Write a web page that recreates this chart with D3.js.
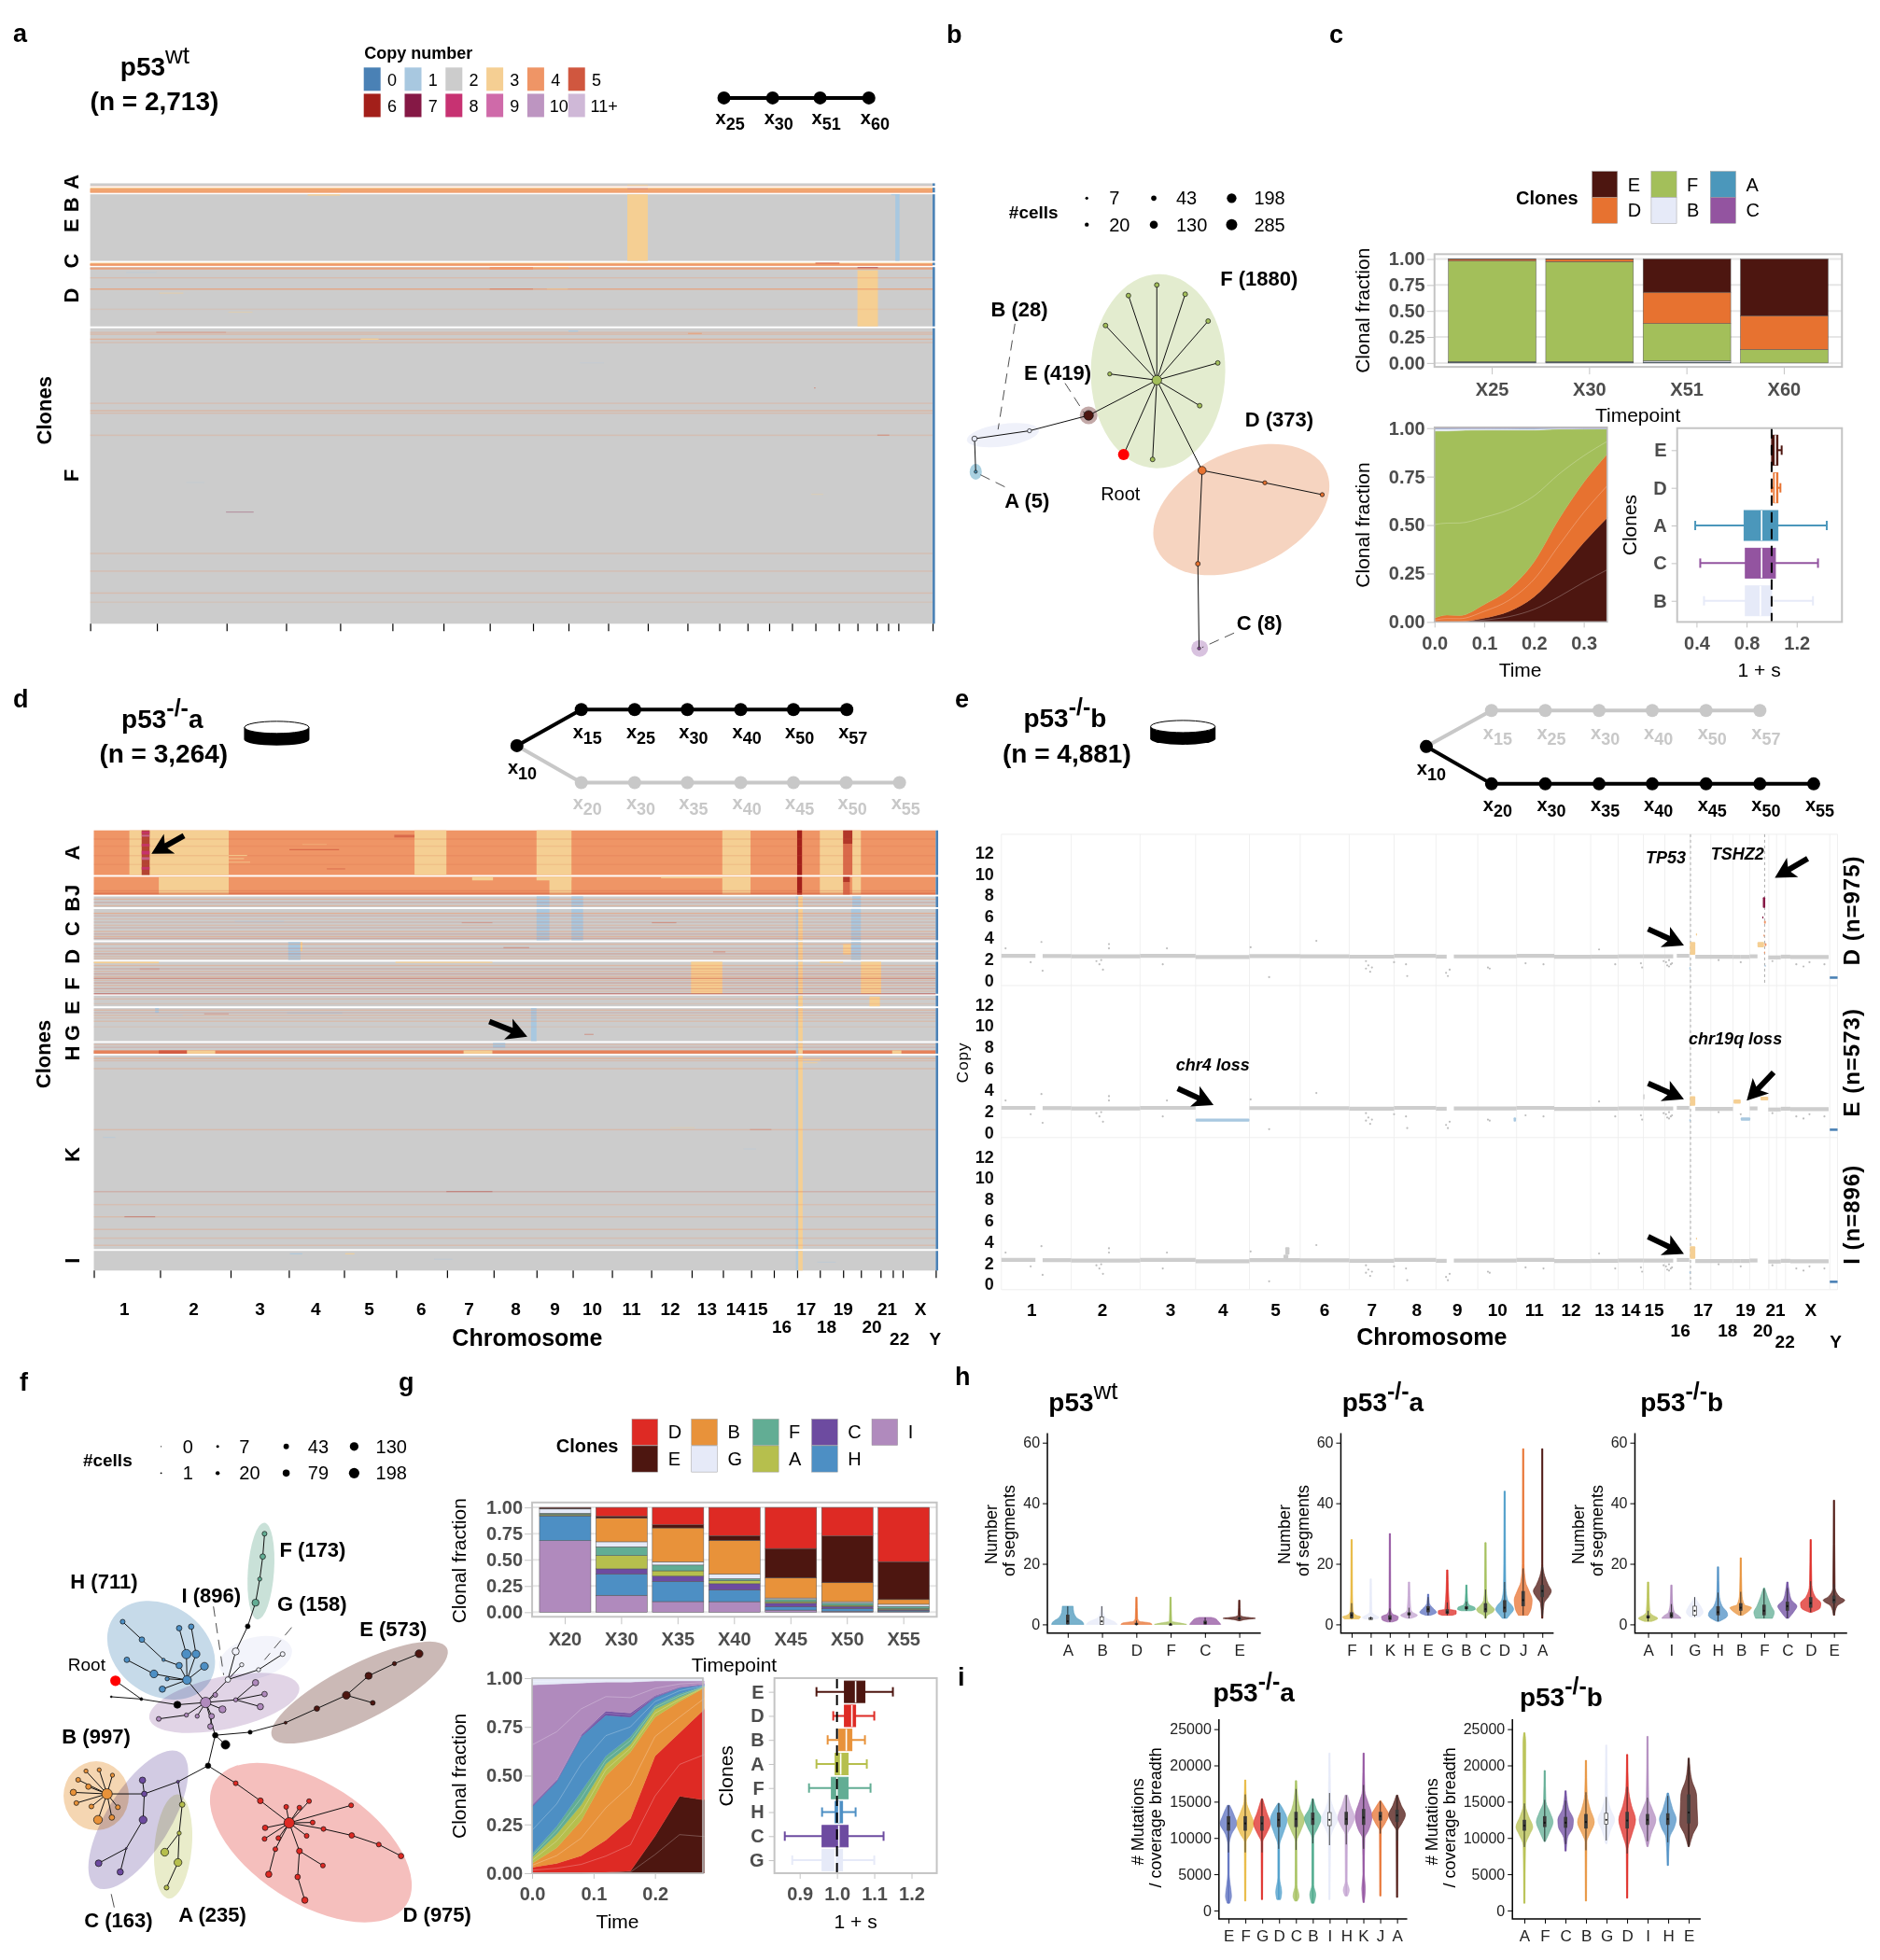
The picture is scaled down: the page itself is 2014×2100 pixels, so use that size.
<!DOCTYPE html>
<html><head><meta charset="utf-8">
<script src="https://cdn.jsdelivr.net/npm/d3@7"></script>
<style>html,body{margin:0;background:#fff}svg{display:block;font-family:"Liberation Sans",Arial,sans-serif}</style>
</head><body><script>
// ---------- shared values ----------
const cnLabels=['0','1','2','3','4','5','6','7','8','9','10','11+'];
const cnColors=['#4a81b5','#a8c8e0','#cccccc','#f5cf93','#ef9566','#d0573f','#a31f1a','#851845','#c73272','#cf6aa9','#bd95c1','#cfb8d7'];
const chromNames=['1','2','3','4','5','6','7','8','9','10','11','12','13','14','15','16','17','18','19','20','21','22','X','Y'];
const chromLenA=[111,116,99,90,87,85,77,72,59,66,66,66,53,47,36,38,39,39,31,32,19,17,57,4];
const chromLenD=[108,115,95,90,85,83,76,70,59,64,64,66,51,46,37,38,37,38,29,32,20,16,54,4];
const chromLenE=[117,115,93,90,85,82,75,70,70,65,63,61,46,42,36,42,35,37,28,32,13,15,74,13];
const chromLabelPosD=[50,163,271,362,449,534,612,688,752,813,877,940,1000,1047,1083,1122,1162,1195,1222,1269,1294,1314,1348,1372];
const chromLabelPosE=[51,169,283,371,459,541,620,695,763,830,892,953,1009,1053,1092,1136,1174,1215,1245,1274,1295,1311,1354,1396];
const chromLabelRow=[0,0,0,0,0,0,0,0,0,0,0,0,0,0,0,1,0,1,0,1,0,2,0,2];

// panel a heatmap
const aClones=['A','B','E','C','D','F'];
const aCells=[16,30,419,16,373,1859];
const aSegments=[
['E',894,928,3,0,1,1],['E',1340,1347,1,0,1,1],['E',362,416,3,0,.02,1],['E',1333,1347,1,0,.012,1],
['D',1277,1311,3,.05,1,1],['D',1277,1311,7,0,.025,.8],['D',1277,1311,2,.025,.05,1],
['D',665,737,4,0,.04,1],['D',737,796,3,0,.03,1],['C',1207,1247,5,0,.5,1],['B',894,928,10,.1,.4,.8],
['A',894,928,3,.5,1,.6]];
const aRows=[['A',.9,4,.25],['B',.15,4,.7],['B',.35,4,.6],['B',.5,4,.55],['B',.7,4,.7],['B',.85,4,.6],
['C',.3,4,.8],['C',.5,4,.8],['C',.75,4,.8],['D',.005,4,.7],['D',.02,4,.7],['D',.17,4,.28],['D',.36,4,.7],
['D',.7,4,.15],['F',.012,4,.3],['F',.018,4,.35],['F',.035,4,.5],['F',.046,4,.25],['F',.252,4,.25],['F',.277,4,.4],['F',.285,4,.3],
['F',.36,4,.25],['F',.76,4,.25],['F',.82,4,.25],['F',.894,4,.28],['F',.925,4,.16]];
const aSpecks=[['F',.012,110,226,5,.25],['F',.008,796,812,1,1],['F',.035,450,480,3,1],['F',.016,995,1018,4,.6],
['F',.62,226,272,7,.3],['F',.115,815,855,1,.2],['D',.36,665,737,5,.4],['D',.36,760,795,3,.5],['D',.43,115,155,3,.5],['D',.75,230,270,3,.4],['D',.08,60,110,1,.3],
['F',.2,1205,1207,5,.6],['F',.56,1200,1220,3,.3],['F',.52,160,190,1,.2],['F',.36,1310,1330,5,.4]];

// panel d heatmap
const dClones=['A','J','B','C','D','F','E','G','H','K','I'];
const dCells=[345,138,83,242,138,248,83,255,83,1497,152];
const dSegments=[
['A',58,220,3,0,1,1],['A',523,575,3,0,1,1],['A',722,779,3,0,1,1],['A',1025,1071,3,0,1,1],['A',1184,1222,3,0,1,1],['A',1237,1251,3,0,1,1],
['A',78,91,6,0,1,.8],['A',78,91,8,.02,.08,.8],['A',78,91,9,.1,.14,.8],['A',78,91,8,.3,.36,.8],['A',78,91,8,.46,.54,.9],['A',78,91,9,.6,.66,.7],['A',78,91,8,.82,.88,.8],
['A',1147,1155,6,0,1,1],['A',1222,1237,6,0,.3,.8],['A',1222,1237,5,.3,1,.7],['A',490,523,5,.1,.16,.7],
['J',106,220,3,0,1,1],['J',617,651,3,0,.2,1],['J',722,779,3,0,.2,1],['J',743,779,3,0,1,1],['J',1025,1071,3,0,1,1],['J',1184,1222,3,0,1,1],['J',1237,1251,3,0,1,1],['J',1147,1155,6,0,1,1],['J',1222,1233,6,0,.3,.8],['J',1222,1233,5,.3,1,.7],['J',925,1025,3,0,.08,1],
['B',722,743,1,0,1,1],['B',779,798,1,0,1,1],['B',1237,1251,1,0,1,1],
['C',722,743,1,0,1,1],['C',779,798,1,0,1,1],['C',1235,1251,1,0,1,1],
['D',317,337,1,0,1,1],['D',337,340,3,0,.5,1],['D',1222,1235,3,.1,.7,1],['D',1235,1251,1,0,1,1],
['F',974,1025,3,0,1,1],['F',1251,1284,3,0,1,1],['F',0,106,3,0,.05,1],['F',75,107,5,.2,.26,.2],['F',492,650,3,0,.04,.9],['F',1184,1222,3,0,.04,1],
['E',1265,1282,3,.1,1,1],['G',713,722,1,0,1,1],['G',100,106,1,0,.14,1],['G',315,405,1,.13,.17,.5],
['H',651,671,1,0,.45,1],['H',0,1373,4,.7,1,1],['H',0,1373,5,.7,1,.3],['H',106,152,5,.7,1,.9],['H',152,198,3,.7,1,1],['H',603,650,3,.7,1,1],['H',1302,1317,3,.7,1,1]];
const dColumnClones=['B','C','D','F','E','G','H','K','I'];
const dColumns=[[1145,1149,1,.8],[1149,1156,3,1]];
const dRows=[['A',.18,5,.18],['A',.34,5,.12],['A',.55,5,.14],['A',.75,5,.12],['J',.75,5,.25],['J',.88,5,.4],['J',.93,5,.4],
['B',.2,4,.4],['B',.5,5,.25],['B',.8,4,.4],
['C',.12,4,.55],['C',.2,5,.2],['C',.3,4,.25],['C',.4,5,.18],['C',.5,4,.3],['C',.58,5,.2],['C',.7,4,.4],['C',.78,5,.25],['C',.86,4,.45],['C',.92,5,.3],
['D',.08,4,.4],['D',.32,5,.2],['D',.48,4,.3],['D',.62,5,.3],['D',.76,4,.3],['D',.88,4,.3],
['F',.1,4,.4],['F',.2,5,.25],['F',.28,4,.35],['F',.36,5,.3],['F',.44,4,.4],['F',.5,5,.5],['F',.56,4,.3],['F',.64,5,.3],['F',.72,4,.4],['F',.82,5,.3],['F',.9,4,.3],['F',.98,6,.5],
['E',.25,4,.3],['E',.7,4,.2],
['G',.04,4,.4],['G',.12,5,.2],['G',.2,4,.35],['G',.28,4,.25],['G',.38,4,.3],['G',.55,4,.15],
['H',.1,4,.3],['H',.35,5,.2],
['K',.012,4,.5],['K',.024,4,.3],['K',.065,4,.3],['K',.38,4,.3],['K',.7,5,.25],['K',.767,4,.25],['K',.83,4,.3],['K',.895,4,.3],['K',.94,4,.25],['K',.977,4,.3]];
const dSpecks=[['A',.55,220,250,3,.8],['A',.62,220,245,3,.7],['A',.7,220,255,3,.6],['A',.42,319,400,5,.7],['A',.3,340,380,3,.3],['A',.85,380,410,5,.5],
['C',.38,230,310,1,.3],['C',.42,600,650,5,.3],['C',.42,910,950,5,.4],['D',.28,668,710,5,.4],['D',.52,1010,1030,5,.4],['G',.2,105,145,1,.3],['G',.16,180,220,5,.3],['G',.78,800,815,5,.4],
['K',.38,1070,1105,5,.3],['K',.7,575,650,6,.3],['K',.83,50,100,6,.3],['K',.02,1157,1185,3,1],['K',.035,1157,1180,3,.7],['K',.42,15,35,1,.4],['K',.48,1060,1080,1,.3],['K',.37,940,980,3,.3],
['I',.12,320,340,1,.8],['I',.12,410,425,3,.8],['I',.4,555,585,1,.3],['I',.55,1180,1210,1,.3]];

// panel b tree: id, x, y, parent, clone, cells
const bNodes=[
['f0',370,863,null,'F',198],['f1',370,647,'f0','F',30],['f2',323,671,'f0','F',30],['f3',417,668,'f0','F',30],['f4',285,739,'f0','F',30],['f5',455,729,'f0','F',30],['f6',292,849,'f0','F',20],['f7',471,824,'f0','F',30],['f8',441,921,'f0','F',30],['f9',363,1043,'f0','F',30],
['root',315,1032,'f0','Root',285],['e0',257,943,'f0','E',198],['b1',159,978,'e0','B',20],['b0',68,996,'b1','B',43],['a0',70,1071,'b0','A',7],
['d0',445,1068,'f0','D',130],['d1',549,1096,'d0','D',20],['d2',644,1123,'d1','D',20],['d3',438,1280,'d0','D',30],['c0',440,1472,'d3','C',7]];
const bClones=['F','E','B','A','D','C','Root'];
const bCloneColors=['#a3bf5a','#4d1610','#e6eaf8','#4b97bb','#e77230','#9354a0','#ff0000'];
const bLegendCells=[7,43,198,20,130,285];
const bLabels=[['F (1880)',475,648],['B (28)',95,718],['E (419)',150,862],['D (373)',516,968],['A (5)',118,1152],['C (8)',502,1431]];

// panel f tree
const fNodes=[
['a0',346,1058,null,'-',43],['a1',358,978,'a0','-',43],['a2',375,1003,'a1','-',130],['a3',416,970,'a1','-',20],
['e0',475,945,'a3','E',7],['e1',527,908,'e0','E',43],['e2',576,873,'e1','E',100],['e3',613,822,'e2','E',79],['e4',656,790,'e3','E',20],['e5',697,764,'e4','E',100],['e6',620,893,'e2','E',30],
['i0',342,892,'a1','I',198],['k2',295,898,'i0','-',79],['k1',235,883,'k2','-',7],['k0',185,877,'k1','-',1],['root',192,835,'k1','Root',198],
['i2',310,925,'i0','I',20],['i1',264,935,'i2','I',30],['i3',328,928,'i0','I',20],['i4',352,928,'i0','I',43],['i5',350,955,'i4','I',43],['i6',370,910,'i0','I',79],['i7',358,872,'i0','I',30],['i8',392,885,'i0','I',20],['i9',425,840,'i8','I',60],['i10',440,870,'i8','I',43],['i11',433,903,'i8','I',60],
['w0',379,832,'i0','G',43],['w1',392,758,'w0','G',79],['w2',412,692,'w1','-',30],['f0',425,630,'w2','F',79],['f1',432,568,'f0','F',20],['f2',437,509,'f1','F',43],['f3',440,449,'f2','F',30],
['g1',402,793,'w0','G',20],['g2',430,806,'w0','G',20],['g3',470,765,'g2','G',30],
['h0',311,833,'i0','H',130],['h1',278,830,'h0','H',20],['h2',270,857,'h0','H',60],['h3',256,817,'h0','H',100],['h4',211,780,'h3','H',43],['h5',298,795,'h0','H',60],['h6',272,780,'h5','H',10],['h7',236,727,'h6','H',43],['h8',204,680,'h7','H',30],['h9',310,765,'h0','H',150],['h10',298,697,'h9','H',43],['h11',326,765,'h0','H',100],['h12',318,693,'h11','H',43],['h13',340,797,'h0','H',100],
['c0',296,1100,'a0','C',7],['c1',240,1132,'c0','C',43],['c2',237,1096,'c1','C',60],['c3',238,1200,'c1','C',100],['c4',210,1275,'c3','C',1],['c5',200,1337,'c4','C',60],['c6',164,1314,'c4','C',70],
['b0',178,1132,'c1','B',198],['b1',122,1128,'b0','B',60],['b2',127,1156,'b0','B',30],['b3',130,1095,'b0','B',30],['b4',143,1072,'b0','B',20],['b5',165,1069,'b0','B',20],['b6',187,1083,'b0','B',20],['b7',147,1113,'b0','B',43],['b8',152,1165,'b0','B',30],['b9',163,1200,'b0','B',130],['b10',186,1194,'b0','B',43],['b11',196,1167,'b0','B',30],
['y0',303,1160,'c0','A',43],['y1',298,1235,'y0','A',20],['y2',274,1285,'y1','A',100],['y3',296,1312,'y1','A',100],['y4',277,1378,'y3','A',30],
['d0',392,1104,'a0','D',30],['d1',433,1150,'d0','D',50],['d2',481,1208,'d1','D',198],['d3',476,1166,'d2','D',30],['d4',514,1151,'d2','D',30],['d5',498,1168,'d2','D',30],['d6',584,1162,'d2','D',30],['d7',520,1207,'d2','D',30],['d8',538,1224,'d2','D',30],['d9',585,1241,'d8','D',43],['d10',630,1265,'d9','D',30],['d11',667,1295,'d10','D',43],['d12',510,1242,'d2','D',30],['d13',498,1282,'d2','D',50],['d14',537,1320,'d13','D',30],['d15',495,1350,'d13','D',43],['d16',507,1411,'d15','D',60],['d17',458,1277,'d2','D',30],['d18',447,1343,'d17','D',60],['d19',463,1248,'d2','D',30],['d20',441,1221,'d2','D',43],['d21',440,1250,'d2','D',30]];
const fClones=['-','E','I','F','G','H','C','B','A','D','Root'];
const fCloneColors=['#000000','#4d1610','#b08abd','#62ad94','#f2f3fb','#4d8fc4','#6d4ba0','#e8923a','#b6bf4d','#de2a24','#ff0000'];
const fLegendCells=[0,7,43,130,1,20,79,198];
const fLabels=[['F (173)',465,510],['H (711)',117,593],['I (896)',302,630],['G (158)',461,652],['E (573)',598,717],['B (997)',103,1000],['C (163)',140,1483],['A (235)',297,1468],['D (975)',670,1468]];

// panel c
const cTimepoints=['X25','X30','X51','X60'];
const cBarE=[.003,.003,.32,.545];
const cBarD=[.015,.022,.30,.325];
const cBarF=[.97,.963,.36,.13];
const cBarB=[.002,.002,.012,.0];
const cBarA=[.005,.005,.004,.0];
const cBarC=[.005,.005,.004,.0];
const cTime=[0,.025,.05,.1,.15,.2,.25,.3,.347];
const cAreaE=[0,0,.001,.02,.055,.13,.26,.41,.54];
const cAreaD=[.02,.035,.032,.07,.115,.18,.27,.31,.33];
const cAreaF=[.965,.95,.955,.90,.82,.68,.465,.275,.13];
const cAreaB=[.012,.012,.01,.008,.007,.006,.004,.003,.002];
const cAreaA=[.002,.002,.001,.001,.002,.003,.001,.001,.001];
const cAreaC=[.001,.001,.001,.001,.001,.001,0,.001,.001];
const cBoxClones=['E','D','A','C','B'];
const cBoxLow=[1.0,1.0,.39,.43,.46],cBoxQ1=[1.0,1.015,.78,.79,.79],cBoxMed=[1.03,1.03,.92,.92,.91],cBoxQ3=[1.05,1.05,1.05,1.03,1.0],cBoxHigh=[1.08,1.07,1.44,1.37,1.33];
const cColors={E:'#4d1610',D:'#e77230',F:'#a3bf5a',B:'#e6eaf8',A:'#4b97bb',C:'#9354a0'};

// panel g
const gTimepoints=['X20','X30','X35','X40','X45','X50','X55'];
const gBarD=[.003,.083,.163,.267,.39,.27,.515];
const gBarE=[.007,.018,.03,.047,.28,.445,.36];
const gBarB=[.005,.224,.32,.318,.19,.18,.045];
const gBarG=[.04,.047,.03,.043,.015,.015,.02];
const gBarF=[.012,.083,.054,.018,.02,.02,.02];
const gBarA=[.01,.126,.05,.03,.015,.01,.01];
const gBarC=[.003,.05,.05,.06,.035,.02,.01];
const gBarH=[.235,.2,.19,.11,.03,.025,.01];
const gBarI=[.68,.16,.1,.1,.02,.01,.005];
const gTime=[0,.04,.08,.12,.16,.2,.24,.28];
const gAreaE=[0,0,0,.005,.01,.19,.395,.375];
const gAreaD=[.03,.05,.09,.165,.27,.41,.325,.465];
const gAreaB=[.02,.08,.18,.33,.34,.2,.16,.11];
const gAreaA=[.03,.07,.08,.06,.04,.04,.02,.005];
const gAreaF=[.02,.04,.07,.04,.04,.02,.02,.005];
const gAreaH=[.24,.23,.28,.21,.1,.04,.03,.005];
const gAreaC=[.01,.01,.01,.02,.02,.01,.005,.005];
const gAreaI=[.615,.49,.265,.15,.16,.075,.03,.015];
const gAreaG=[.035,.03,.025,.02,.02,.015,.015,.015];
const gBoxClones=['E','D','B','A','F','H','C','G'];
const gBoxLow=[.945,.99,.975,.945,.925,.96,.86,.88],gBoxQ1=[1.02,1.02,1.005,.995,.985,.995,.96,.96],gBoxMed=[1.05,1.04,1.025,1.01,1.0,1.005,1.005,.995],gBoxQ3=[1.075,1.05,1.04,1.03,1.03,1.015,1.03,1.015],gBoxHigh=[1.15,1.10,1.075,1.08,1.09,1.05,1.125,1.10];
const gColors={D:'#de2a24',E:'#4d1610',B:'#e8923a',G:'#e6eaf8',F:'#62ad94',A:'#b6bf4d',C:'#6d4ba0',H:'#4d8fc4',I:'#b08abd'};

// panel e
const eBase=[[0,57,2.3],[69,117,2.28],[117,232,2.25],[232,325,2.3],[325,415,2.18],[415,500,2.28],[500,582,2.26],[582,657,2.22],[657,727,2.3],[727,745,2.22],[757,862,2.24],[862,925,2.3],[925,986,2.2],[986,1032,2.22],[1032,1074,2.25],[1074,1124,2.25],[1130,1151,2.3],[1161,1224,2.2],[1224,1237,2.2],[1237,1252,2.2],[1252,1265,2.25],[1283,1304,2.15],[1304,1320,2.22],[1320,1384,2.18]];
const eOutlierX=[7,67,69,49,159,164,170,180,180,167,277,270,417,448,527,610,614,617,610,620,657,677,679,744,747,750,814,817,877,907,1027,1072,1117,1120,1112,1117,1237,1342,1352,1377,1000,1070,1108,1114,1122,1200,1290,1330];
const eOutlierCN=[3.0,3.6,.9,1.7,1.8,1.5,1.0,3.4,3.0,1.9,3,1.5,3.1,.3,3.7,1.8,1.4,.8,1.1,1.2,1.7,1.5,.4,.7,.4,1,1.2,1.1,1.6,1.5,1.5,1.2,1.9,1.5,1.7,1.3,1.7,1.3,1.7,1.5,2.9,1.6,1.8,1.4,1.6,1.9,1.8,1.5];
const ePanels=['D (n=975)','E (n=573)','I (n=896)'];
// panel row, x0, x1, low copy, high copy, state
const eExtra=[
[0,1152,1161,2.4,3.6,3],[0,1151,1153,1.0,1.25,1],[0,1162,1164,4.2,4.4,3],
[0,1265,1276,3.1,3.6,3],[0,1274,1278,6.8,7.8,7],[0,1273,1275,5.8,6,7],[0,1276,1279,5.3,5.6,4],[0,1275,1277,4.1,4.3,4],[0,1277,1280,3.2,3.5,4],[0,1276,1278,2.5,2.7,4],[0,1277,1279,1.25,1.45,1],
[1,325,415,1.0,1.3,1],[1,1152,1161,2.5,3.4,3],[1,1151,1153,1.0,1.25,1],[1,857,861,1.0,1.4,1],[1,1225,1237,2.7,3.1,3],[1,1237,1253,1.1,1.4,1],[1,1270,1283,3.0,3.35,3],[1,1074,1076,3.1,3.6,2],
[2,1152,1161,2.4,3.6,3],[2,1151,1153,1.0,1.25,1],[2,1162,1164,4.2,4.4,3],[2,472,480,2.3,2.8,2],[2,475,482,2.8,3.5,2]];
const eSkip=[[],[[325,415],[1224,1237],[1237,1252]],[]];
const eChromY=[.25,.25,.25];

// panel h
const hWtClones=['A','B','D','F','C','E'];
const hWtProfiles=[[[0,27],[1,24],[2,16],[3,12],[4,10],[6,9]],[[0,26],[1,20],[2,8],[3,4],[6,1]],[[0,26],[.5,22],[1,5],[2,2],[9,1]],[[0,27],[.5,15],[1,2],[9,1]],[[0,26],[1,22],[2,16],[2.3,10]],[[1.2,2],[1.6,10],[2,27],[2.4,10],[3,2],[8,1]]];
const hWtBoxes=[[0,1,3.2],[0,1,2.5],[0,0,.5],[0,0,.2],[0,.5,1.2],[2,2,2.2]];
const hAClones=['F','I','K','H','E','G','B','C','D','J','A'];
const hAProfiles=[[[1.8,12],[2.5,15],[3,8],[4,3],[6,2],[10,1.5],[28,1]],[[1.8,10],[2.3,14],[3,8],[4,2],[15,1]],[[.8,4],[1.5,13],[2.5,14],[3.5,4],[5,1.5],[30,1]],[[2,3],[3,14],[4,6],[5,3],[14,1]],[[3,4],[4,14],[5,10],[6,5],[7,2],[10,1]],[[3,8],[3.5,15],[4.5,15],[5,4],[18,1]],[[4.5,8],[5,15],[5.6,14],[6.5,4],[8,2],[13,1]],[[2,1],[3,3],[4,12],[5,15],[6,10],[8,3],[12,1.5],[27,1]],[[2,4],[3,8],[5,15],[6,13],[8,5],[12,2],[20,1.5],[44,1]],[[3,8],[5,13],[8,15],[11,10],[14,4],[20,1.5],[58,1]],[[2,1],[7,3],[9,10],[11,15],[13,10],[16,4],[20,1],[58,1]]];
const hABoxes=[[2,3,4],[2,2,2.2],[1.5,2,3],[3,3.4,4],[4,5,6],[3.5,4,5],[5,5.4,6],[4,5,7],[4,5.5,8],[6,8,11],[9,11,13]];
const hBClones=['A','I','G','H','B','F','C','D','E'];
const hBProfiles=[[[1,6],[2,16],[3,8],[4,3],[14,1]],[[2,16],[2.6,14],[4,5],[7,2],[13,1]],[[2.5,8],[4,14],[6,10],[8,3],[9,1]],[[1,2],[3,16],[4,15],[6,7],[10,2],[19,1]],[[3,3],[4.5,14],[5.5,18],[6.5,6],[10,2],[22,1]],[[2,14],[4,17],[6,12],[9,6],[12,1]],[[2,2],[4.5,12],[6,16],[8,7],[11,3],[14,1]],[[4,2],[5.5,16],[7,17],[9,8],[13,2],[28,1]],[[3,1],[6,5],[8,18],[9,10],[12,2],[41,1]]];
const hBBoxes=[[2,2.3,3],[2.2,3,4],[3,4.5,6],[3,4,6],[4.5,5.5,7],[3,4.5,6.5],[4.5,6,7.5],[5.5,7,9],[7,8,9.5]];
const panelAColors={F:'#e8b73c',I:'#e6eaf8',K:'#9354a0',H:'#c3a3d0',E:'#5b6fbf',G:'#de2a24',B:'#4aa88a',C:'#a3bf5a',D:'#4b9cc9',J:'#e77230',A:'#4d1610'};
const panelBColors={A:'#b6bf4d',I:'#b08abd',G:'#e6eaf8',H:'#4d8fc4',B:'#e8923a',F:'#62ad94',C:'#6d4ba0',D:'#de2a24',E:'#4d1610'};

// panel i
const iAClones=['E','F','G','D','C','B','I','H','K','J','A'];
const iAProfiles=[
[[1000,2],[2000,5],[3500,3],[5000,1.2],[9000,1.2],[10500,5],[12000,14],[13000,10],[14500,2]],
[[1300,1],[9500,1.5],[10500,8],[12000,14],[13500,8],[15000,2],[18000,1]],
[[1500,1],[9500,1.5],[10500,7],[12000,14],[13500,8],[15400,1]],
[[1500,3],[2500,5],[4500,1.5],[9000,1.5],[10500,7],[12500,14],[14000,7],[14800,1]],
[[1300,2],[2000,5],[3500,1.5],[9500,1.2],[11000,8],[12500,14],[14000,7],[15500,3],[17900,1]],
[[1000,2],[2200,5],[3500,1.5],[10000,1.5],[11500,9],[12700,14],[14000,6],[15400,1]],
[[1500,1],[10000,2],[11500,8],[12500,14],[14000,7],[15500,2],[21700,1]],
[[2000,2],[2800,5],[4000,1.5],[10500,2],[11500,8],[12800,14],[14500,7],[15900,2]],
[[1100,1],[3000,3],[5000,1.2],[10000,2],[11000,8],[13000,14],[15000,7],[16500,2],[21700,1]],
[[2000,1],[11000,1.5],[12000,8],[13200,14],[14200,8],[15100,1]],
[[1800,1],[11000,1.5],[12000,8],[13200,14],[14500,7],[15900,1]]];
const iABoxes=[[11000,12000,13000],[11000,12000,13000],[11000,12000,13000],[11500,12500,13500],[11500,12600,13600],[11800,12600,13500],[11700,12500,13500],[11800,12600,13600],[11800,12800,14000],[12400,13000,13600],[12200,13100,13900]];
const iBClones=['A','F','C','B','G','D','I','H','E'];
const iBProfiles=[
[[1000,1],[9000,2],[10500,9],[11500,14],[13000,7],[14500,2],[23000,2.5],[24500,1]],
[[9500,1],[11000,9],[12200,14],[13500,9],[15000,2],[19300,1]],
[[8200,1],[10000,3],[11500,12],[12500,13],[14000,5],[16500,1]],
[[1300,1],[9500,1.5],[10500,6],[12200,14],[14000,7],[16000,2],[20700,1]],
[[9200,1],[11000,7],[12500,14],[14000,7],[16000,2],[22800,1]],
[[1700,1],[8500,1.5],[10500,8],[12500,14],[14500,7],[17000,2],[21500,1]],
[[8800,1],[10500,6],[12500,14],[14000,8],[15500,2],[24000,1]],
[[6200,1],[10000,3],[11500,11],[12600,14],[14000,8],[16200,1]],
[[8800,1],[10500,7],[12000,15],[14000,14],[16000,13],[18000,5],[21000,1]]];
const iBBoxes=[[11000,11700,12500],[11500,12100,13000],[11400,12100,12900],[11300,12200,13300],[11900,12500,13400],[11300,12400,13600],[11800,12500,13300],[11800,12600,13400],[12000,13500,16000]];

// ---------- helpers ----------
const svg=d3.select('body').append('svg').attr('width',2014).attr('height',2100);
function crop(x,y,w,h){return {x:d3.scaleLinear().domain([0,1568]).range([x,x+w]),y:d3.scaleLinear().domain([0,1568]).range([y,y+h])};}
const Z1=crop(0,0,1010,700),Z2=crop(1000,0,1014,740),Z3=crop(0,730,1030,730),Z4=crop(1010,730,1004,730),Z5=crop(0,1460,1010,640),Z6=crop(1010,1460,1004,640);
function T(x,y,s,o={}){
  const t=svg.append('text').attr('x',x).attr('y',y).text(s).attr('font-size',o.size||18).attr('font-weight',o.weight||'normal').attr('fill',o.fill||'#000').attr('text-anchor',o.anchor||'start');
  if(o.rot!==undefined)t.attr('transform',`rotate(${o.rot} ${x} ${y})`);
  if(o.ls)t.attr('letter-spacing',o.ls);
  return t;
}
function RC(x,y,s,o={}){return T(x,y,s,Object.assign({rot:-90,anchor:'middle'},o));}
function supTitle(x,y,a,b,c){
  const t=svg.append('text').attr('x',x).attr('y',y).attr('font-size',28).attr('font-weight','bold');
  t.append('tspan').text(a);
  t.append('tspan').text(b).attr('dy',-13).attr('font-size',c?25:26).attr('font-weight',c?'bold':'normal');
  if(c)t.append('tspan').text(c).attr('dy',13);
}
function tlabel(x,y,n,col){
  const t=svg.append('text').attr('x',x).attr('y',y).attr('font-size',20).attr('font-weight','bold').attr('fill',col);
  t.append('tspan').text('x');
  t.append('tspan').text(n).attr('dy',6).attr('font-size',18);
}
function timeline(pts,labels,col,lx,ly,w=4){
  svg.append('path').datum(pts).attr('d',d3.line()).attr('fill','none').attr('stroke',col).attr('stroke-width',w);
  svg.selectAll(null).data(pts).enter().append('circle').attr('cx',d=>d[0]).attr('cy',d=>d[1]).attr('r',7).attr('fill',col);
  pts.forEach((p,i)=>{if(labels[i])tlabel(p[0]+lx,p[1]+ly,labels[i],col);});
}
function disk(x,y,w,h){
  const ry=h*.25;
  svg.append('path').attr('d',`M${x},${y+ry}V${y+h-ry}A${w/2},${ry} 0 0 0 ${x+w},${y+h-ry}V${y+ry}Z`).attr('fill','#000');
  svg.append('ellipse').attr('cx',x+w/2).attr('cy',y+ry).attr('rx',w/2-.5).attr('ry',ry).attr('fill','#fff').attr('stroke','#000');
}
function arrow(x1,y1,x2,y2){
  const a=Math.atan2(y2-y1,x2-x1),L=Math.hypot(x2-x1,y2-y1),hl=22,hw=12,sw=3;
  const P=(u,v)=>[x1+u*Math.cos(a)-v*Math.sin(a),y1+u*Math.sin(a)+v*Math.cos(a)];
  svg.append('polygon').attr('points',[P(0,-sw),P(L-hl+4,-sw),P(L-hl,-hw),P(L,0),P(L-hl,hw),P(L-hl+4,sw),P(0,sw)].map(p=>p.join(',')).join(' ')).attr('fill','#000');
}
function heatmap(cfg){
  const g=svg.append('g');
  const starts=[0];cfg.chrom.forEach(l=>starts.push(starts[starts.length-1]+l));
  const total=starts[starts.length-1];
  const x=d3.scaleLinear().domain([0,total]).range([cfg.x0,cfg.x1]);
  const gap=2/(cfg.y1-cfg.y0)*d3.sum(cfg.cells);
  const y=d3.scaleLinear().domain([0,d3.sum(cfg.cells)+gap*(cfg.cells.length-1)]).range([cfg.y0,cfg.y1]);
  const span={};let c=0;cfg.clones.forEach((k,i)=>{span[k]=[c,c+cfg.cells[i]];c+=cfg.cells[i]+gap;});
  const fy=(k,f)=>y(span[k][0]+f*(span[k][1]-span[k][0]));
  g.selectAll('rect.base').data(cfg.clones).enter().append('rect').attr('x',x(0)).attr('width',x(total-cfg.chrom[23])-x(0)).attr('y',k=>fy(k,0)).attr('height',k=>fy(k,1)-fy(k,0)).attr('fill',(k)=>cfg.baseState&&cfg.baseState[k]!==undefined?cnColors[cfg.baseState[k]]:cnColors[2]);
  g.selectAll('rect.seg').data(cfg.segments).enter().append('rect').attr('x',d=>x(d[1])).attr('width',d=>x(d[2])-x(d[1])).attr('y',d=>fy(d[0],d[4])).attr('height',d=>Math.max(1,fy(d[0],d[5])-fy(d[0],d[4]))).attr('fill',d=>cnColors[d[3]]).attr('opacity',d=>d[6]);
  if(cfg.colClones)cfg.colClones.forEach(k=>cfg.columns.forEach(col=>g.append('rect').attr('x',x(col[0])).attr('width',x(col[1])-x(col[0])).attr('y',fy(k,0)).attr('height',fy(k,1)-fy(k,0)).attr('fill',cnColors[col[2]]).attr('opacity',col[3])));
  g.selectAll('rect.row').data(cfg.rows).enter().append('rect').attr('x',x(0)).attr('width',x(total-cfg.chrom[23])-x(0)).attr('y',d=>fy(d[0],d[1])).attr('height',1.4).attr('fill',d=>cnColors[d[2]]).attr('opacity',d=>d[3]);
  g.selectAll('rect.speck').data(cfg.specks).enter().append('rect').attr('x',d=>x(d[2])).attr('width',d=>x(d[3])-x(d[2])).attr('y',d=>fy(d[0],d[1])).attr('height',1.2).attr('fill',d=>cnColors[d[4]]).attr('opacity',d=>d[5]);
  g.selectAll('rect.chry').data(cfg.clones).enter().append('rect').attr('x',x(total-cfg.chrom[23])).attr('width',x(total)-x(total-cfg.chrom[23])).attr('y',k=>fy(k,0)).attr('height',k=>fy(k,1)-fy(k,0)).attr('fill',cnColors[0]);
  const ax=d3.axisBottom(x).tickValues(starts.slice(0,24)).tickSize(8).tickFormat('').tickSizeOuter(0);
  const a=g.append('g').attr('transform',`translate(0,${cfg.y1})`).call(ax);a.select('.domain').remove();a.selectAll('line').attr('stroke','#000').attr('stroke-width',1.2);
  return {x,fy};
}
function nodeTree(Z,nodes,clones,colors,rScale,segStroke=1){
  const sc=d3.scaleOrdinal(clones,colors),by=new Map(nodes.map(n=>[n[0],n]));
  const g=svg.append('g');
  g.selectAll('line').data(nodes.filter(n=>n[3])).enter().append('line').attr('x1',n=>Z.x(n[1])).attr('y1',n=>Z.y(n[2])).attr('x2',n=>Z.x(by.get(n[3])[1])).attr('y2',n=>Z.y(by.get(n[3])[2])).attr('stroke','#111').attr('stroke-width',segStroke);
  g.selectAll('circle').data(nodes).enter().append('circle').attr('cx',n=>Z.x(n[1])).attr('cy',n=>Z.y(n[2])).attr('r',n=>rScale(n[5])).attr('fill',n=>sc(n[4])).attr('stroke',n=>n[4]==='Root'?'none':'#111').attr('stroke-width',.7);
}
function ell(Z,X,Y,rx,ry,rot,col){
  svg.append('ellipse').attr('cx',0).attr('cy',0).attr('rx',rx).attr('ry',ry).attr('fill',col).attr('transform',`translate(${Z.x(X)},${Z.y(Y)}) rotate(${rot})`).style('mix-blend-mode','multiply');
}
function leader(Z,a,b,c,d,dash){svg.append('line').attr('x1',Z.x(a)).attr('y1',Z.y(b)).attr('x2',Z.x(c)).attr('y2',Z.y(d)).attr('stroke','#222').attr('stroke-width',.8).attr('stroke-dasharray',dash?'11 7':null);}
function styleAxis(a,size=20,weight='bold',fill='#4d4d4d',tick='#333'){
  a.selectAll('text').attr('font-size',size).attr('font-weight',weight).attr('fill',fill).attr('font-family','"Liberation Sans"');
  a.selectAll('line').attr('stroke',tick);a.select('.domain').remove();
}
function stackedBars(cfg){
  const g=svg.append('g'),Z=cfg.Z;
  const x=d3.scaleBand().domain(cfg.cats).range([Z.x(cfg.bx[0]),Z.x(cfg.bx[1])]).paddingInner(cfg.pad).paddingOuter(cfg.pad/2);
  const y=d3.scaleLinear().domain([0,1]).range([Z.y(cfg.y0),Z.y(cfg.y1)]);
  const rows=cfg.cats.map((c,i)=>{const o={c};cfg.keys.forEach((k,j)=>o[k]=cfg.series[j][i]);return o;});
  const st=d3.stack().keys(cfg.keys.slice().reverse()).offset(d3.stackOffsetExpand)(rows);
  g.selectAll('line.g').data([0,.25,.5,.75,1]).enter().append('line').attr('x1',Z.x(cfg.box[0])).attr('x2',Z.x(cfg.box[1])).attr('y1',d=>y(d)).attr('y2',d=>y(d)).attr('stroke','#e6e6e6').attr('stroke-width',2);
  st.forEach(s=>{g.selectAll(null).data(s).enter().append('rect').attr('x',d=>x(d.data.c)).attr('width',x.bandwidth()).attr('y',d=>y(d[1])).attr('height',d=>Math.max(0,y(d[0])-y(d[1]))).attr('fill',cfg.colors[s.key]).attr('stroke','#555').attr('stroke-width',.5);});
  g.append('rect').attr('x',Z.x(cfg.box[0])).attr('width',Z.x(cfg.box[1])-Z.x(cfg.box[0])).attr('y',Z.y(cfg.box[2])).attr('height',Z.y(cfg.box[3])-Z.y(cfg.box[2])).attr('fill','none').attr('stroke','#c4c4c4').attr('stroke-width',2);
  const ay=g.append('g').attr('transform',`translate(${Z.x(cfg.box[0])},0)`).call(d3.axisLeft(y).tickValues([0,.25,.5,.75,1]).tickFormat(d3.format('.2f')).tickSize(8).tickPadding(2));styleAxis(ay,20,'bold','#4d4d4d','#c4c4c4');
  const ax=g.append('g').attr('transform',`translate(0,${Z.y(cfg.box[3])})`).call(d3.axisBottom(x).tickSize(8).tickPadding(9));styleAxis(ax,20,'bold','#4d4d4d','#c4c4c4');
}
function fanArea(cfg){
  const g=svg.append('g'),Z=cfg.Z;
  const x=d3.scaleLinear().domain([0,cfg.tmax]).range([Z.x(cfg.box[0]),Z.x(cfg.box[1])]);
  const y=d3.scaleLinear().domain([0,1]).range([Z.y(cfg.y0),Z.y(cfg.y1)]);
  const rows=cfg.time.map((t,i)=>{const o={t};cfg.keys.forEach((k,j)=>o[k]=cfg.series[j][i]);return o;});
  const st=d3.stack().keys(cfg.keys).offset(d3.stackOffsetExpand)(rows);
  const area=d3.area().x(d=>x(d.data.t)).y0(d=>y(d[0])).y1(d=>y(d[1])).curve(cfg.curve);
  const mid=d3.line().x(d=>x(d.data.t)).y(d=>y((d[0]+d[1])/2)).curve(cfg.curve);
  st.forEach(s=>g.append('path').datum(s).attr('d',area).attr('fill',cfg.colors[s.key]).attr('stroke',cfg.colors[s.key]).attr('stroke-width',.4));
  st.forEach(s=>g.append('path').datum(s).attr('d',mid).attr('fill','none').attr('stroke','#fff').attr('stroke-opacity',.25).attr('stroke-width',1));
  g.append('rect').attr('x',Z.x(cfg.box[0])).attr('width',Z.x(cfg.box[1])-Z.x(cfg.box[0])).attr('y',Z.y(cfg.box[2])).attr('height',Z.y(cfg.box[3])-Z.y(cfg.box[2])).attr('fill','none').attr('stroke','#bbb').attr('stroke-width',1.6);
  const ay=g.append('g').attr('transform',`translate(${Z.x(cfg.box[0])},0)`).call(d3.axisLeft(y).tickValues([0,.25,.5,.75,1]).tickFormat(d3.format('.2f')).tickSize(8).tickPadding(2));styleAxis(ay,20,'bold','#4d4d4d','#c4c4c4');
  const ax=g.append('g').attr('transform',`translate(0,${Z.y(cfg.box[3])})`).call(d3.axisBottom(x).tickValues(cfg.ticks).tickFormat(d3.format('.1f')).tickSize(6).tickPadding(9));styleAxis(ax,20,'bold','#4d4d4d','#c4c4c4');
}
function boxPlot(cfg){
  const g=svg.append('g'),Z=cfg.Z;
  const x=d3.scaleLinear().domain(cfg.dom).range([Z.x(cfg.px[0]),Z.x(cfg.px[1])]);
  const y=d3.scalePoint().domain(cfg.clones).range([Z.y(cfg.py[0]),Z.y(cfg.py[1])]);
  const h=cfg.h;
  cfg.clones.forEach((k,i)=>{
    const c=cfg.colors[k],yy=y(k);
    g.append('line').attr('x1',x(cfg.low[i])).attr('x2',x(cfg.high[i])).attr('y1',yy).attr('y2',yy).attr('stroke',c).attr('stroke-width',2);
    [cfg.low[i],cfg.high[i]].forEach(v=>g.append('line').attr('x1',x(v)).attr('x2',x(v)).attr('y1',yy-5).attr('y2',yy+5).attr('stroke',c).attr('stroke-width',2));
    g.append('rect').attr('x',x(cfg.q1[i])).attr('width',Math.max(2,x(cfg.q3[i])-x(cfg.q1[i]))).attr('y',yy-h).attr('height',2*h).attr('fill',c).attr('stroke',c);
    g.append('line').attr('x1',x(cfg.med[i])).attr('x2',x(cfg.med[i])).attr('y1',yy-h).attr('y2',yy+h).attr('stroke','#fff').attr('stroke-width',1.6);
  });
  g.append('line').attr('x1',x(1)).attr('x2',x(1)).attr('y1',Z.y(cfg.box[2])).attr('y2',Z.y(cfg.box[3])).attr('stroke','#000').attr('stroke-width',2).attr('stroke-dasharray','11 7');
  g.append('rect').attr('x',Z.x(cfg.box[0])).attr('width',Z.x(cfg.box[1])-Z.x(cfg.box[0])).attr('y',Z.y(cfg.box[2])).attr('height',Z.y(cfg.box[3])-Z.y(cfg.box[2])).attr('fill','none').attr('stroke','#c4c4c4').attr('stroke-width',2);
  const ay=g.append('g').attr('transform',`translate(${Z.x(cfg.box[0])},0)`).call(d3.axisLeft(y).tickSize(6).tickPadding(5));styleAxis(ay,20,'bold','#4d4d4d','#c4c4c4');
  const ax=g.append('g').attr('transform',`translate(0,${Z.y(cfg.box[3])})`).call(d3.axisBottom(x).tickValues(cfg.ticks).tickFormat(d3.format('.1f')).tickSize(6).tickPadding(9));styleAxis(ax,20,'bold','#4d4d4d','#c4c4c4');
}
function swatchLegend(Z,col,colors,labels){
  colors.forEach((c,i)=>{
    const k=labels[i],[X,Y,W,H]=[col[i][0],col[i][1],col[i][2],col[i][3]];
    svg.append('rect').attr('x',Z.x(X)).attr('y',Z.y(Y)).attr('width',Z.x(W)-Z.x(0)).attr('height',Z.y(H)-Z.y(0)).attr('fill',c).attr('stroke','#999').attr('stroke-width',.5);
    T(Z.x(X+W+17),Z.y(Y+H/2)+7,k,{size:20});
  });
}
function violins(cfg){
  const g=svg.append('g'),Z=cfg.Z;
  const y=d3.scaleLinear().domain(cfg.dom).range([Z.y(cfg.py[0]),Z.y(cfg.py[1])]);
  const x=d3.scaleLinear().domain([0,1568]).range([Z.x(0),Z.x(1568)]);
  const w=d3.scaleLinear().domain([0,1568]).range([0,Z.x(1568)-Z.x(0)]);
  const base=Z.y(cfg.bottom),top=Z.y(cfg.top);
  cfg.clones.forEach((k,i)=>{
    const cx=x(cfg.pos[i]),c=cfg.colors[k],pr=cfg.profiles[i],b=cfg.boxes[i],pale=c==='#e6eaf8';
    const area=d3.area().y(d=>y(d[0])).x0(d=>cx-w(d[1])).x1(d=>cx+w(d[1])).curve(d3.curveMonotoneY);
    g.append('path').datum(pr).attr('d',area).attr('fill',c).attr('fill-opacity',.75).attr('stroke',c).attr('stroke-opacity',.7).attr('stroke-width',.8);
    g.append('line').attr('x1',cx).attr('x2',cx).attr('y1',y(pr[0][0])).attr('y2',y(pr[pr.length-1][0])).attr('stroke',c).attr('stroke-opacity',.85).attr('stroke-width',1.6);
    const iqr=b[2]-b[0],lo=Math.max(pr[0][0],b[0]-1.5*iqr),hi=Math.min(pr[pr.length-1][0],b[2]+1.5*iqr);
    g.append('line').attr('x1',cx).attr('x2',cx).attr('y1',y(lo)).attr('y2',y(hi)).attr('stroke','#333').attr('stroke-width',.9);
    g.append('rect').attr('x',cx-1.8).attr('width',3.6).attr('y',y(b[2])).attr('height',Math.max(2,y(b[0])-y(b[2]))).attr('fill',pale?'#fff':'#3a3a3a').attr('stroke',pale?'#333':'none').attr('stroke-width',.7);
    g.append('circle').attr('cx',cx).attr('cy',y(b[1])).attr('r',1.1).attr('fill','#111');
  });
  const ax0=Z.x(cfg.ax[0]),ax1=Z.x(cfg.ax[1]);
  g.append('path').attr('d',`M${ax0},${top}V${base}H${ax1}`).attr('fill','none').attr('stroke','#000').attr('stroke-width',1.5);
  const ay=g.append('g').attr('transform',`translate(${ax0},0)`).call(d3.axisLeft(y).tickValues(cfg.ticks).tickFormat(d3.format('d')).tickSize(5).tickPadding(3));styleAxis(ay,16,'normal','#222','#000');
  const px=d3.scalePoint().domain(cfg.clones.map((k,i)=>i)).range([x(cfg.pos[0]),x(cfg.pos[cfg.pos.length-1])]);
  const ab=g.append('g').attr('transform',`translate(0,${base})`).call(d3.axisBottom(px).tickFormat(i=>cfg.clones[i]).tickSize(5).tickPadding(7));styleAxis(ab,17,'normal','#222','#000');
}

// ---------- panel letters ----------
[['a',14,45],['b',1014,46],['c',1424,46],['d',14,758],['e',1023,758],['f',21,1490],['g',427,1490],['h',1023,1484],['i',1026,1806]].forEach(d=>T(d[1],d[2],d[0],{size:27,weight:'bold'}));

// ---------- panel a ----------
supTitle(Z1.x(200),Z1.y(182),'p53','wt');
T(Z1.x(150),Z1.y(265),'(n = 2,713)',{size:28,weight:'bold'});
T(Z1.x(606),Z1.y(142),'Copy number',{size:18,weight:'bold'});
cnLabels.forEach((l,i)=>{
  const col=i%6,row=i<6?0:1,X=605+68*col,Y=row?225:162;
  svg.append('rect').attr('x',Z1.x(X)).attr('y',Z1.y(Y)).attr('width',18).attr('height',25).attr('fill',cnColors[i]);
  T(Z1.x(X+(i>=10?37:47)),Z1.y(Y+43),l,{size:18,anchor:i>=10?'start':'middle'});
});
timeline([1204,1285,1364,1445].map(X=>[Z1.x(X),Z1.y(235)]),['25','30','51','60'],'#000',-9,28);
heatmap({chrom:chromLenA,x0:Z1.x(150),x1:Z1.x(1555),y0:Z1.y(440),y1:Z1.y(1497),clones:aClones,cells:aCells,segments:aSegments,rows:aRows,specks:aSpecks,baseState:{A:2,B:3,C:3}});
[['A',435],['B',490],['E',540],['C',625],['D',708],['F',1140]].forEach(d=>RC(Z1.x(130),Z1.y(d[1]),d[0],{size:22,weight:'bold',ls:1}));
RC(Z1.x(85),Z1.y(985),'Clones',{size:22,weight:'bold'});

// ---------- panel b ----------
const rb=d3.scaleSqrt().domain([0,285]).range([.8,6]);
ell(Z2,372,843,72,104,1,'#e3eccf');ell(Z2,510,1157,100,62,-25,'#f6d4c0');ell(Z2,115,988,39,12,-8,'#eff1fa');ell(Z2,70,1071,6.5,8.5,0,'#a9d0e0');ell(Z2,257,943,9.5,9.5,0,'#c3a9a8');ell(Z2,441,1472,9,9,0,'#d8c2df');
leader(Z2,135,735,107,975,true);leader(Z2,218,870,250,938,true);leader(Z2,78,1078,125,1110,true);leader(Z2,498,1437,445,1470,true);
nodeTree(Z2,bNodes,bClones,bCloneColors,rb);
bLabels.forEach(d=>T(Z2.x(d[1]),Z2.y(d[2]),d[0],{size:22,weight:'bold'}));
T(Z2.x(277),Z2.y(1135),'Root',{size:20});
T(Z2.x(125),Z2.y(495),'#cells',{size:19,weight:'bold'});
bLegendCells.forEach((v,i)=>{const X=[254,365,494][i%3],Y=i<3?450:510;
  svg.append('circle').attr('cx',Z2.x(X)).attr('cy',Z2.y(Y)).attr('r',rb(v));
  T(Z2.x(X+37),Z2.y(Y)+7,String(v),{size:20});});

// ---------- panel c ----------
T(Z2.x(965),Z2.y(465),'Clones',{size:20,weight:'bold'});
swatchLegend(Z2,[[1091,389,42,59],[1091,448,42,59],[1189,389,42,59],[1189,448,42,59],[1287,389,42,59],[1287,448,42,59]],['E','D','F','B','A','C'].map(k=>cColors[k]),['E','D','F','B','A','C']);
stackedBars({Z:Z2,cats:cTimepoints,keys:['E','D','F','B','A','C'],series:[cBarE,cBarD,cBarF,cBarB,cBarA,cBarC],colors:cColors,bx:[845,1490],pad:.1,y0:824,y1:588,box:[830,1505,577,833]});
RC(Z2.x(722),Z2.y(705),'Clonal fraction',{size:21});
T(Z2.x(1167),Z2.y(958),'Timepoint',{size:21,anchor:'middle'});
fanArea({Z:Z2,time:cTime,tmax:.347,keys:['E','D','F','B','A','C'],series:[cAreaE,cAreaD,cAreaF,cAreaB,cAreaA,cAreaC],colors:cColors,y0:1412,y1:972,box:[830,1116,970,1412],ticks:[0,.1,.2,.3],curve:d3.curveMonotoneX});
RC(Z2.x(722),Z2.y(1192),'Clonal fraction',{size:21});
T(Z2.x(972),Z2.y(1537),'Time',{size:21,anchor:'middle'});
boxPlot({Z:Z2,clones:cBoxClones,colors:cColors,low:cBoxLow,q1:cBoxQ1,med:cBoxMed,q3:cBoxQ3,high:cBoxHigh,dom:[.4,1.2],px:[1264,1430],py:[1022,1364],h:16,box:[1232,1505,972,1412],ticks:[.4,.8,1.2]});
RC(Z2.x(1165),Z2.y(1192),'Clones',{size:21});
T(Z2.x(1368),Z2.y(1537),'1 + s',{size:21,anchor:'middle'});

// ---------- panel d ----------
supTitle(Z3.x(198),Z3.y(108),'p53','-/-','a');
T(Z3.x(162),Z3.y(187),'(n = 3,264)',{size:28,weight:'bold'});
disk(Z3.x(398),Z3.y(92),70,26);
timeline([[Z3.x(843),Z3.y(148)]].concat([948,1035,1121,1208,1294,1380,1467].map(X=>[Z3.x(X),Z3.y(233)])),[null,'20','30','35','40','45','50','55'],'#c8c8c8',-9,29);
timeline([[Z3.x(843),Z3.y(148)]].concat([948,1035,1121,1208,1294,1381].map(X=>[Z3.x(X),Z3.y(65)])),[null,'15','25','30','40','50','57'],'#000',-9,31);
tlabel(Z3.x(828),Z3.y(212),'10','#000');
heatmap({chrom:chromLenD,x0:Z3.x(153),x1:Z3.x(1530),y0:Z3.y(343),y1:Z3.y(1356),clones:dClones,cells:dCells,segments:dSegments,rows:dRows,specks:dSpecks,baseState:{A:4,J:4},colClones:dColumnClones,columns:dColumns});
[['A',393],['J',480],['B',512],['C',568],['D',632],['F',695],['E',750],['G',808],['H',855],['K',1088],['I',1332]].forEach(d=>RC(Z3.x(130),Z3.y(d[1]),d[0],{size:22,weight:'bold',ls:1}));
RC(Z3.x(82),Z3.y(858),'Clones',{size:22,weight:'bold'});
arrow(Z3.x(300),Z3.y(355),Z3.x(247),Z3.y(397));arrow(Z3.x(798),Z3.y(783),Z3.x(860),Z3.y(818));
const xd=d3.scaleLinear().domain([0,1373]).range([Z3.x(153),Z3.x(1526)]);
chromNames.forEach((c,i)=>T(xd(chromLabelPosD[i]),Z3.y(1458+[0,42,70][chromLabelRow[i]]),c,{size:19,weight:'bold',anchor:'middle'}));
T(Z3.x(860),Z3.y(1530),'Chromosome',{size:25,weight:'bold',anchor:'middle'});

// ---------- panel e ----------
supTitle(Z4.x(135),Z4.y(105),'p53','-/-','b');
T(Z4.x(100),Z4.y(187),'(n = 4,881)',{size:28,weight:'bold'});
disk(Z4.x(347),Z4.y(90),70,26);
timeline([[Z4.x(809),Z4.y(150)]].concat([918,1008,1098,1187,1277,1367].map(X=>[Z4.x(X),Z4.y(67)])),[null,'15','25','30','40','50','57'],'#c8c8c8',-9,31);
timeline([[Z4.x(809),Z4.y(150)]].concat([918,1008,1098,1187,1277,1367,1457].map(X=>[Z4.x(X),Z4.y(236)])),[null,'20','30','35','40','45','50','55'],'#000',-9,29);
tlabel(Z4.x(793),Z4.y(215),'10','#000');
const xe=d3.scaleLinear().domain([0,1399]).range([Z4.x(98),Z4.x(1497)]);
const eStarts=[0];chromLenE.forEach(l=>eStarts.push(eStarts[eStarts.length-1]+l));
const eGrid=svg.append('g');
eStarts.forEach(p=>eGrid.append('line').attr('x1',xe(p)).attr('x2',xe(p)).attr('y1',Z4.y(352)).attr('y2',Z4.y(1400)).attr('stroke','#f0f0f0').attr('stroke-width',1));
[352,700,1050,1400].forEach(Y=>eGrid.append('line').attr('x1',xe(0)).attr('x2',xe(1399)).attr('y1',Z4.y(Y)).attr('y2',Z4.y(Y)).attr('stroke','#eeeeee').attr('stroke-width',1));
svg.append('line').attr('x1',xe(1153)).attr('x2',xe(1153)).attr('y1',Z4.y(352)).attr('y2',Z4.y(1400)).attr('stroke','#aaa').attr('stroke-width',1).attr('stroke-dasharray','3 3');
svg.append('line').attr('x1',xe(1277)).attr('x2',xe(1277)).attr('y1',Z4.y(352)).attr('y2',Z4.y(700)).attr('stroke','#aaa').attr('stroke-width',1).attr('stroke-dasharray','3 3');
ePanels.forEach((lab,pi)=>{
  const off=[0,350,700][pi];
  const y=d3.scaleLinear().domain([0,12]).range([Z4.y(688+off),Z4.y(394+off)]);
  const g=svg.append('g');
  const ay=g.append('g').attr('transform',`translate(${xe(0)},0)`).call(d3.axisLeft(y).tickValues([0,2,4,6,8,10,12]).tickSize(0).tickPadding(8));styleAxis(ay,18,'bold','#111');
  eBase.filter(s=>!eSkip[pi].some(r=>r[0]===s[0]&&r[1]===s[1])).forEach(s=>{
    g.append('line').attr('x1',xe(s[0])).attr('x2',xe(s[1])).attr('y1',y(s[2])).attr('y2',y(s[2])).attr('stroke','#cdcdcd').attr('stroke-width',4.2);
  });
  g.selectAll(null).data(eOutlierX.map((v,i)=>[v,eOutlierCN[i]])).enter().append('circle').attr('cx',d=>xe(d[0])).attr('cy',d=>y(d[1])).attr('r',1.1).attr('fill','#bdbdbd');
  eExtra.filter(r=>r[0]===pi).forEach(r=>{
    g.append('rect').attr('x',xe(r[1])).attr('width',xe(r[2])-xe(r[1])).attr('y',y(r[4])).attr('height',y(r[3])-y(r[4])).attr('rx',1).attr('fill',cnColors[r[5]]);
  });
  g.append('line').attr('x1',xe(1386)).attr('x2',xe(1399)).attr('y1',y(eChromY[pi])).attr('y2',y(eChromY[pi])).attr('stroke',cnColors[0]).attr('stroke-width',2.6);
  RC(Z4.x(1533),Z4.y(527+off),lab,{size:24,weight:'bold',ls:1});
});
RC(Z4.x(42),Z4.y(877),'Copy',{size:17,ls:1});
T(Z4.x(1176),Z4.y(418),'TP53',{size:18,weight:'bold'}).attr('font-style','italic');
T(Z4.x(1285),Z4.y(410),'TSHZ2',{size:18,weight:'bold'}).attr('font-style','italic');
T(Z4.x(1248),Z4.y(835),'chr19q loss',{size:18,weight:'bold'}).attr('font-style','italic');
T(Z4.x(390),Z4.y(895),'chr4 loss',{size:18,weight:'bold'}).attr('font-style','italic');
[[1180,570,1240,608],[1447,408,1392,452],[1180,925,1240,962],[393,937,453,975],[1390,900,1345,965],[1180,1278,1240,1318]].forEach(a=>arrow(Z4.x(a[0]),Z4.y(a[1]),Z4.x(a[2]),Z4.y(a[3])));
chromNames.forEach((c,i)=>T(xe(chromLabelPosE[i]),Z4.y(1460+[0,48,74][chromLabelRow[i]]),c,{size:19,weight:'bold',anchor:'middle'}));
T(Z4.x(818),Z4.y(1528),'Chromosome',{size:25,weight:'bold',anchor:'middle'});

// ---------- panel f ----------
const rf=d3.scaleSqrt().domain([0,198]).range([.6,5.6]);
ell(Z5,434,547,14,52,4,'#c9e1d8');ell(Z5,268,755,62,48,35,'#c6dae9');ell(Z5,425,775,40,22,-15,'#f3f4fb');ell(Z5,373,893,82,28,-12,'#e1d4e6');ell(Z5,598,866,105,30,-27,'#cbb9b6');ell(Z5,160,1137,35,37,0,'#f5d6b2');ell(Z5,230,1200,85,34,-58,'#d2cbe3');ell(Z5,288,1270,20,56,5,'#e9ecca');ell(Z5,517,1260,122,64,33,'#f5bfbd');
leader(Z5,355,640,372,820,true);leader(Z5,485,695,440,780,true);leader(Z5,185,1395,190,1430,false);
nodeTree(Z5,fNodes,fClones,fCloneColors,rf);
fLabels.forEach(d=>T(Z5.x(d[1]),Z5.y(d[2]),d[0],{size:22,weight:'bold'}));
T(Z5.x(113),Z5.y(808),'Root',{size:19});
T(Z5.x(138),Z5.y(272),'#cells',{size:19,weight:'bold'});
fLegendCells.forEach((v,i)=>{const X=[268,362,476,589][i%4],Y=i<4?220:290;
  svg.append('circle').attr('cx',Z5.x(X)).attr('cy',Z5.y(Y)).attr('r',rf(v));
  T(Z5.x(X+36),Z5.y(Y)+7,String(v),{size:20});});

// ---------- panel g ----------
T(Z5.x(925),Z5.y(236),'Clones',{size:20,weight:'bold'});
const gLeg=[['D',1051,148],['E',1051,218],['B',1150,148],['G',1150,218],['F',1252,148],['A',1252,218],['C',1350,148],['H',1350,218],['I',1450,148]];
swatchLegend(Z5,gLeg.map(d=>[d[1],d[2],43,69]),gLeg.map(d=>gColors[d[0]]),gLeg.map(d=>d[0]));
stackedBars({Z:Z5,cats:gTimepoints,keys:['D','E','B','G','F','A','C','H','I'],series:[gBarD,gBarE,gBarB,gBarG,gBarF,gBarA,gBarC,gBarH,gBarI],colors:gColors,bx:[893,1550],pad:.09,y0:655,y1:380,box:[885,1558,367,667]});
RC(Z5.x(775),Z5.y(520),'Clonal fraction',{size:21});
T(Z5.x(1221),Z5.y(812),'Timepoint',{size:21,anchor:'middle'});
fanArea({Z:Z5,time:gTime,tmax:.278,keys:['E','D','B','A','F','H','C','I','G'],series:[gAreaE,gAreaD,gAreaB,gAreaA,gAreaF,gAreaH,gAreaC,gAreaI,gAreaG],colors:gColors,y0:1340,y1:828,box:[885,1169,828,1340],ticks:[0,.1,.2],curve:d3.curveLinear});
RC(Z5.x(775),Z5.y(1085),'Clonal fraction',{size:21});
T(Z5.x(1027),Z5.y(1485),'Time',{size:21,anchor:'middle'});
boxPlot({Z:Z5,clones:gBoxClones,colors:gColors,low:gBoxLow,q1:gBoxQ1,med:gBoxMed,q3:gBoxQ3,high:gBoxHigh,dom:[.9,1.2],px:[1330,1516],py:[864,1306],h:11.5,box:[1288,1558,828,1340],ticks:[.9,1,1.1,1.2]});
RC(Z5.x(1218),Z5.y(1085),'Clones',{size:21});
T(Z5.x(1423),Z5.y(1485),'1 + s',{size:21,anchor:'middle'});

// ---------- panel h ----------
supTitle(Z6.x(177),Z6.y(127),'p53','wt');
supTitle(Z6.x(668),Z6.y(127),'p53','-/-','a');
supTitle(Z6.x(1167),Z6.y(127),'p53','-/-','b');
const hCommon={Z:Z6,dom:[0,60],py:[687,210],bottom:710,top:185,ticks:[0,20,40,60]};
violins(Object.assign({},hCommon,{clones:hWtClones,pos:[209,266,324,381,439,496],profiles:hWtProfiles,boxes:hWtBoxes,colors:cColors,ax:[175,532]}));
violins(Object.assign({},hCommon,{clones:hAClones,pos:[684,716,748,780,812,844,876,908,940,971,1003],profiles:hAProfiles,boxes:hABoxes,colors:panelAColors,ax:[666,1022]}));
violins(Object.assign({},hCommon,{clones:hBClones,pos:[1180,1219,1258,1297,1335,1374,1413,1452,1491],profiles:hBProfiles,boxes:hBBoxes,colors:panelBColors,ax:[1158,1513]}));
[[90,120],[581,612],[1073,1104]].forEach(p=>{RC(Z6.x(p[0]),Z6.y(451),'Number',{size:18});RC(Z6.x(p[1]),Z6.y(441),'of segments',{size:18});});

// ---------- panel i ----------
supTitle(Z6.x(452),Z6.y(890),'p53','-/-','a');
supTitle(Z6.x(965),Z6.y(902),'p53','-/-','b');
const iCommon={Z:Z6,dom:[0,25000],py:[1438,962],bottom:1460,top:936,ticks:[0,5000,10000,15000,20000,25000]};
violins(Object.assign({},iCommon,{clones:iAClones,pos:[478,506,534,562,591,619,647,675,704,732,760],profiles:iAProfiles,boxes:iABoxes,colors:panelAColors,ax:[462,777]}));
violins(Object.assign({},iCommon,{clones:iBClones,pos:[973,1007,1042,1076,1110,1145,1179,1213,1248],profiles:iBProfiles,boxes:iBBoxes,colors:panelBColors,ax:[953,1268]}));
[[336,366],[828,858]].forEach(p=>{RC(Z6.x(p[0]),Z6.y(1205),'# Mutations',{size:18});RC(Z6.x(p[1]),Z6.y(1194),'/ coverage breadth',{size:18});});
</script></body></html>
